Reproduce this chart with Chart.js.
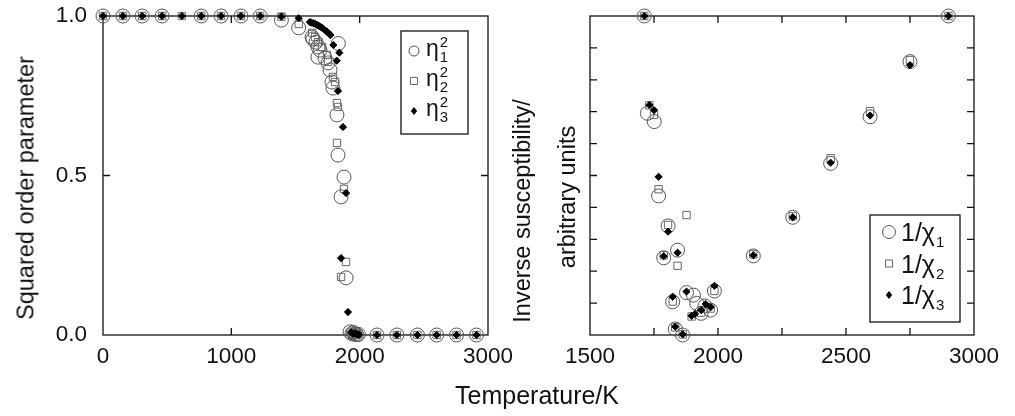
<!DOCTYPE html>
<html>
<head>
<meta charset="utf-8">
<script src="https://cdn.jsdelivr.net/npm/chart.js@4.4.0/dist/chart.umd.min.js"></script>
<style>
  body { margin: 0; background: #fff; }
  #wrap { position: relative; width: 1015px; height: 416px; overflow: hidden;
          font-family: "Liberation Sans", Arial, sans-serif; color: #111; }
  canvas { position: absolute; top: 0; }
  .title { position: absolute; font-size: 23.5px; white-space: nowrap; transform: translate(-50%, -50%); }
  .rot { transform: translate(-50%, -50%) rotate(-90deg); }
</style>
</head>
<body>
<div id="wrap">
  <canvas id="orderChart" width="520" height="416" style="left:0"></canvas>
  <canvas id="suscChart" width="508" height="416" style="left:507px"></canvas>
  <div class="title rot" style="left:26px; top:188px">Squared order parameter</div>
  <div class="title rot" style="left:522px; top:211px">Inverse susceptibility/</div>
  <div class="title rot" style="left:567px; top:197px">arbitrary units</div>
  <div class="title" style="left:537px; top:395px; font-size:25px">Temperature/K</div>
</div>
<script>
// left panel: squared order parameters vs temperature, [T, value]
const eta1 = [
  [0, 1], [155, 1], [305, 1], [460, 1], [765, 1], [920, 1], [1075, 1], [1225, 1], [1390, 0.987], [1525, 0.963],
  [1629, 0.934], [1636, 0.928], [1660, 0.918], [1675, 0.903], [1691, 0.893], [1675, 0.871], [1730, 0.868],
  [1753, 0.853], [1769, 0.831], [1784, 0.793], [1792, 0.774], [1834, 0.914], [1823, 0.690], [1831, 0.564],
  [1878, 0.495], [1855, 0.433], [1894, 0.179],
  [1925, 0.010], [1940, 0.004], [1950, 0.008], [1962, 0.003], [1975, 0.001], [1990, 0.002],
  [2135, 0], [2290, 0], [2450, 0], [2600, 0], [2755, 0], [2910, 0]
];
const eta2 = [
  [0, 1], [155, 1], [305, 1], [460, 1], [615, 1], [765, 1], [920, 1], [1075, 1], [1225, 1], [1390, 0.998], [1525, 0.975],
  [1629, 0.947], [1652, 0.934], [1675, 0.918], [1707, 0.903], [1745, 0.878], [1753, 0.856], [1792, 0.809],
  [1808, 0.793], [1823, 0.727], [1831, 0.715], [1823, 0.602], [1878, 0.458], [1894, 0.229], [1855, 0.182],
  [1930, 0.008], [1945, 0.004], [1960, 0.006], [1975, 0.001], [1990, 0.003],
  [2135, 0], [2290, 0], [2450, 0], [2600, 0], [2755, 0], [2910, 0]
];
const eta3 = [
  [0, 1], [155, 1], [305, 1], [460, 1], [615, 1], [765, 1], [920, 1], [1075, 1], [1225, 1], [1390, 0.998], [1525, 0.993],
  [1612, 0.981], [1625, 0.979], [1640, 0.977], [1655, 0.975], [1668, 0.972], [1682, 0.969], [1695, 0.966],
  [1710, 0.962], [1722, 0.958], [1735, 0.954], [1748, 0.950], [1760, 0.946], [1772, 0.940], [1795, 0.909],
  [1842, 0.885], [1821, 0.860], [1831, 0.765], [1870, 0.652], [1894, 0.445], [1855, 0.241], [1909, 0.072],
  [1935, 0.008], [1950, 0.004], [1965, 0.006], [1980, 0.002], [1995, 0.001],
  [2135, 0], [2290, 0], [2450, 0], [2600, 0], [2755, 0], [2910, 0]
];

// right panel: inverse susceptibilities (arbitrary units), [T, value]
const chi1 = [
  [1712, 1.0], [2900, 1.0], [2750, 0.857], [2594, 0.684], [2440, 0.538], [2292, 0.369], [2138, 0.248],
  [1724, 0.695], [1751, 0.669], [1768, 0.436], [1805, 0.342], [1842, 0.266], [1788, 0.242], [1823, 0.104],
  [1877, 0.133], [1904, 0.125], [1917, 0.099], [1934, 0.068], [1949, 0.091], [1971, 0.078], [1986, 0.138],
  [1833, 0.019], [1862, 0.0]
];
const chi2 = [
  [1712, 1.0], [2900, 1.0], [2750, 0.862], [2594, 0.702], [2440, 0.554], [2292, 0.372], [2138, 0.253],
  [1732, 0.720], [1750, 0.690], [1768, 0.457], [1877, 0.376], [1805, 0.345], [1842, 0.217], [1788, 0.250],
  [1823, 0.105], [1897, 0.058], [1934, 0.070], [1971, 0.083], [1986, 0.138], [1833, 0.024], [1862, 0.002]
];
const chi3 = [
  [1712, 1.0], [2900, 1.0], [2750, 0.846], [2594, 0.688], [2440, 0.540], [2292, 0.369], [2138, 0.250],
  [1732, 0.721], [1750, 0.705], [1768, 0.496], [1805, 0.324], [1842, 0.258], [1788, 0.247], [1823, 0.120],
  [1877, 0.136], [1897, 0.060], [1910, 0.066], [1934, 0.078], [1952, 0.097], [1971, 0.087], [1986, 0.154],
  [1833, 0.026], [1862, 0.002]
];

const orderLegend = [
  { base: 'η', sup: '2', sub: '1' },
  { base: 'η', sup: '2', sub: '2' },
  { base: 'η', sup: '2', sub: '3' }
];
const suscLegend = [
  { base: '1/χ', sub: '1' },
  { base: '1/χ', sub: '2' },
  { base: '1/χ', sub: '3' }
];

const FONT = '"Liberation Sans", Arial, sans-serif';
const INK = '#111';

function toXY(pairs) {
  return pairs.map(p => ({ x: p[0], y: p[1] }));
}

function seriesSets(a, b, c, circleR) {
  return [
    { data: toXY(a), pointStyle: 'circle', pointRadius: circleR, borderColor: '#555', borderWidth: 1,
      backgroundColor: 'rgba(0,0,0,0)', order: 2, clip: false },
    { data: toXY(b), pointStyle: 'rect', pointRadius: 5.2, borderColor: '#666', borderWidth: 1,
      backgroundColor: 'rgba(0,0,0,0)', order: 1, clip: false },
    { data: toXY(c), pointStyle: 'rectRot', pointRadius: 3.6, borderColor: '#000', borderWidth: 1,
      backgroundColor: '#000', order: 0, clip: false }
  ];
}

// box round the plot area and short inward ticks on all four sides
const frameTicks = {
  id: 'frameTicks',
  beforeDatasetsDraw(chart) {
    const { ctx, chartArea: a, scales } = chart;
    const len = 7;
    ctx.save();
    ctx.strokeStyle = INK;
    ctx.lineWidth = 1.3;
    ctx.strokeRect(a.left, a.top, a.right - a.left, a.bottom - a.top);
    ctx.beginPath();
    scales.x.ticks.forEach(t => {
      if (t.value <= scales.x.min || t.value >= scales.x.max) return;
      const px = scales.x.getPixelForValue(t.value);
      ctx.moveTo(px, a.bottom); ctx.lineTo(px, a.bottom - len);
      ctx.moveTo(px, a.top); ctx.lineTo(px, a.top + len);
    });
    scales.y.ticks.forEach(t => {
      if (t.value <= scales.y.min + 1e-9 || t.value >= scales.y.max - 1e-9) return;
      const py = scales.y.getPixelForValue(t.value);
      ctx.moveTo(a.left, py); ctx.lineTo(a.left + len, py);
      ctx.moveTo(a.right, py); ctx.lineTo(a.right - len, py);
    });
    ctx.stroke();
    ctx.restore();
  }
};

function drawMarker(ctx, style, x, y, r) {
  ctx.beginPath();
  if (style === 'circle') {
    ctx.arc(x, y, r, 0, Math.PI * 2);
    ctx.strokeStyle = '#555'; ctx.lineWidth = 1; ctx.stroke();
  } else if (style === 'rect') {
    const s = r * Math.SQRT1_2;
    ctx.rect(x - s, y - s, 2 * s, 2 * s);
    ctx.strokeStyle = '#666'; ctx.lineWidth = 1; ctx.stroke();
  } else {
    ctx.moveTo(x, y - r); ctx.lineTo(x + r * 0.8, y); ctx.lineTo(x, y + r); ctx.lineTo(x - r * 0.8, y);
    ctx.closePath();
    ctx.fillStyle = '#000'; ctx.fill();
  }
}

// legend with stacked sub/superscripts, placed inside the plot area
const markerLegend = {
  id: 'markerLegend',
  afterDatasetsDraw(chart, args, o) {
    const { ctx, chartArea: a } = chart;
    const x0 = a.right - o.right, y0 = a.top + o.top;
    ctx.save();
    ctx.fillStyle = '#fff';
    ctx.fillRect(x0, y0, o.width, o.height);
    ctx.strokeStyle = INK; ctx.lineWidth = 1.3;
    ctx.strokeRect(x0, y0, o.width, o.height);
    chart.data.datasets.forEach((ds, i) => {
      const my = y0 + o.firstRow + i * o.rowGap;
      drawMarker(ctx, ds.pointStyle, x0 + o.markerX, my, o.markerR[i]);
      const e = o.entries[i];
      ctx.fillStyle = INK;
      ctx.textAlign = 'left';
      ctx.textBaseline = 'alphabetic';
      ctx.font = o.baseSize + 'px ' + FONT;
      const tx = x0 + o.textX;
      ctx.fillText(e.base, tx, my + o.baseDy);
      const sx = tx + ctx.measureText(e.base).width + 1;
      ctx.font = o.smallSize + 'px ' + FONT;
      if (e.sup) ctx.fillText(e.sup, sx, my + o.supDy);
      if (e.sub) ctx.fillText(e.sub, sx, my + o.subDy);
    });
    ctx.restore();
  }
};

function axisBase() {
  return {
    type: 'linear',
    grid: { display: false, drawTicks: false },
    border: { display: false },
    ticks: { color: INK, font: { family: FONT, size: 22.5 }, maxRotation: 0, autoSkip: false }
  };
}

function buildOptions(xCfg, yCfg, yWidth, padRight, legendOpts) {
  const x = axisBase(), y = axisBase();
  Object.assign(x, xCfg.range);
  Object.assign(x.ticks, xCfg.ticks);
  x.afterFit = s => { s.height = 81; s.paddingLeft = 0; s.paddingRight = 0; };
  Object.assign(y, yCfg.range);
  Object.assign(y.ticks, yCfg.ticks);
  y.afterFit = s => { s.width = yWidth; s.paddingTop = 0; s.paddingBottom = 0; };
  return {
    responsive: false,
    animation: false,
    events: [],
    layout: { padding: { top: 16, right: padRight, left: 0, bottom: 0 } },
    plugins: { legend: { display: false }, tooltip: { enabled: false }, markerLegend: legendOpts },
    scales: { x: x, y: y }
  };
}

new Chart(document.getElementById('orderChart'), {
  type: 'scatter',
  data: { datasets: seriesSets(eta1, eta2, eta3, 7) },
  options: buildOptions(
    { range: { min: 0, max: 3000 }, ticks: { stepSize: 1000, padding: 8, callback: v => String(v) } },
    { range: { min: 0, max: 1 }, ticks: { stepSize: 0.5, padding: 16, callback: v => v.toFixed(1) } },
    103, 32,
    { entries: orderLegend, right: 87, top: 15, width: 67, height: 103, firstRow: 20, rowGap: 30,
      markerX: 13, markerR: [5, 5, 4], textX: 25, baseSize: 23, smallSize: 15,
      baseDy: 5, supDy: -4, subDy: 11 }
  ),
  plugins: [frameTicks, markerLegend]
});

new Chart(document.getElementById('suscChart'), {
  type: 'scatter',
  data: { datasets: seriesSets(chi1, chi2, chi3, 7) },
  options: buildOptions(
    { range: { min: 1500, max: 3000 }, ticks: { stepSize: 250, padding: 8,
      callback: v => (v % 500 === 0 ? String(v) : '') } },
    { range: { min: 0, max: 1 }, ticks: { stepSize: 0.1, display: false } },
    83, 41,
    { entries: suscLegend, right: 104, top: 199, width: 90, height: 107, firstRow: 17, rowGap: 31.5,
      markerX: 19, markerR: [6.5, 5, 4], textX: 31, baseSize: 25, smallSize: 15,
      baseDy: 9, subDy: 15 }
  ),
  plugins: [frameTicks, markerLegend]
});
</script>
</body>
</html>
